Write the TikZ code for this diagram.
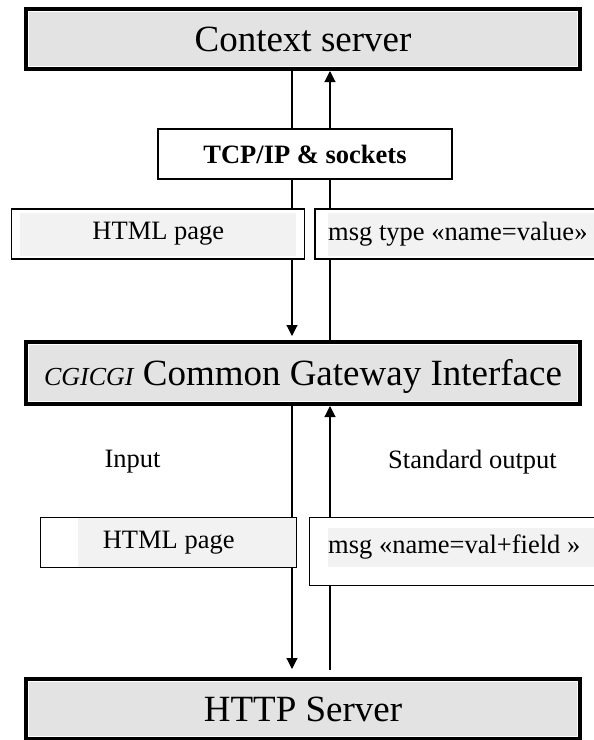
\documentclass[tikz,border=0pt]{standalone}
\usepackage{fontspec}
\setmainfont{Liberation Serif}
\usepackage{tikz}
\usetikzlibrary{arrows.meta, positioning, calc}
\definecolor{boxgray}{RGB}{227, 227, 227}
\definecolor{papergray}{RGB}{242, 242, 242}
\newcommand{\serverfont}{\fontsize{37pt}{40pt}\selectfont}
\newcommand{\notefont}{\fontsize{26.5pt}{30pt}\selectfont}

\begin{document}
\begin{tikzpicture}[x=1pt, y=-1pt, >={Triangle[length=11pt, width=11pt]},
    server/.style={draw, line width=4pt, fill=boxgray, inner sep=0pt,
        minimum width=554pt, font=\serverfont, text height=25pt, text depth=0pt},
    panel/.style={draw, line width=1.1pt, fill=white, inner sep=0pt},
    caption/.style={inner sep=0pt, font=\notefont},
    flow/.style={line width=1.1pt}]
    \useasboundingbox (0,0) rectangle (594,740);
    \clip (0,0) rectangle (594,740);

    \node[server, minimum height=60pt] (ctx) at (303,39) {Context server};
    \node[server, minimum height=62pt] (cgi) at (303,373)
        {{\fontsize{26pt}{30pt}\selectfont\itshape CGICGI} Common Gateway Interface};
    \node[server, minimum height=60pt] (http) at (303,709) {HTTP Server};
    \foreach \n in {ctx, cgi, http}
        \draw[white, line width=0.8pt] ($(\n.south west)+(4.6,-4.6)$) rectangle ($(\n.north east)+(-4.6,4.6)$);

    \coordinate (downlane) at (292,0);
    \coordinate (uplane) at (330,0);
    \draw[flow, ->, shorten >=4pt] (ctx.south -| downlane) -- (cgi.north -| downlane);
    \draw[flow, ->] (cgi.north -| uplane) -- (ctx.south -| uplane);
    \draw[flow, ->, shorten >=8pt] (cgi.south -| downlane) -- (http.north -| downlane);
    \draw[flow, ->, shorten <=7pt] (http.north -| uplane) -- (cgi.south -| uplane);

    \node[panel, minimum width=294pt, minimum height=50pt, font=\notefont\bfseries] (tcp) at (305,154) {TCP/IP \& sockets};

    \node[panel, minimum width=293pt, minimum height=50pt] (pagetop) at (158.3,234) {};
    \fill[papergray] (20,213) rectangle (296,256);
    \node[caption] (pagetoptext) at (pagetop) {HTML page};
    \node[panel, minimum width=305pt, minimum height=50pt] (msgtop) at (467.5,234) {};
    \fill[papergray] (328,213) rectangle (620,256);
    \node[caption, anchor=west] (msgtoptext) at (328,234) {msg type «name=value»};

    \node[caption] (intext) at (132.5,462) {Input};
    \node[caption] (outtext) at (472.5,462) {Standard output};

    \node[panel, minimum width=256pt, minimum height=50pt] (pagelow) at (168.7,542.7) {};
    \fill[papergray] (78,518.3) rectangle (296.1,567.1);
    \node[caption] (pagelowtext) at (pagelow) {HTML page};
    \node[panel, minimum width=311pt, minimum height=67.6pt] (msglow) at (464.8,551.5) {};
    \fill[papergray] (328,528) rectangle (620,567);
    \node[caption, anchor=west] (msglowtext) at (328,547.5) {msg «name=val+field »};
\end{tikzpicture}
\end{document}
